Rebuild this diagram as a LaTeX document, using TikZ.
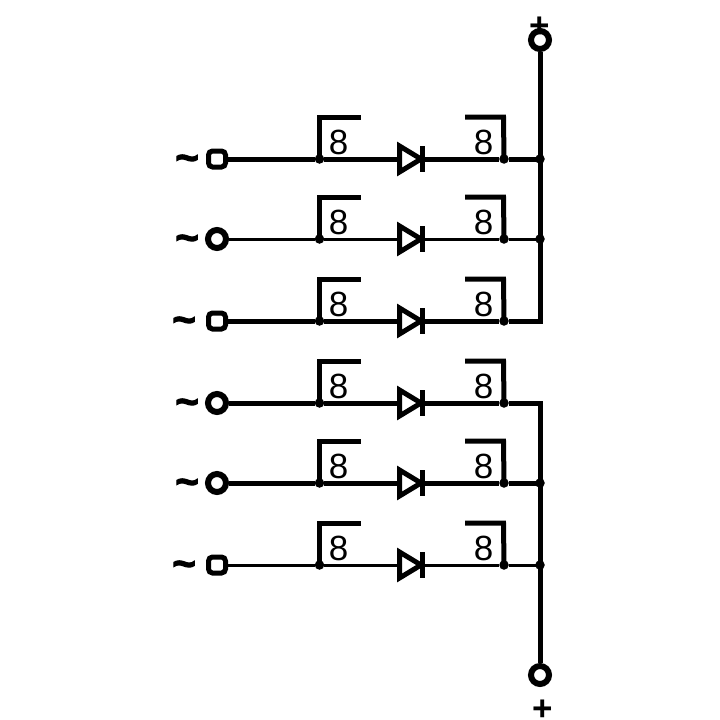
\documentclass[tikz,border=0pt]{standalone}
\usepackage{fontspec}
\setmainfont{Liberation Sans}
\newfontfamily\tildefont[FakeBold=3,BoldFont={Liberation Sans Bold}]{Liberation Sans Bold}
\begin{document}
\begin{tikzpicture}[x=1pt,y=-1pt,
  wire/.style={line width=#1,draw=black},
  term/.style={circle,draw=black,line width=6pt,fill=white,minimum size=18pt,inner sep=0pt},
  sqterm/.style={rectangle,rounded corners=4pt,draw=black,line width=5pt,fill=white,minimum width=17pt,minimum height=16pt,inner sep=0pt},
  junct/.style={circle,fill=black,minimum size=9.5pt,inner sep=0pt},
  eightlab/.style={font=\fontsize{35}{35}\selectfont,inner sep=0pt},
  tildelab/.style={font=\fontsize{40}{40}\tildefont,inner sep=0pt},
  pluslab/.style={font=\fontsize{35}{35}\selectfont\bfseries,inner sep=0pt}]
\useasboundingbox (0,0) rectangle (720,720);
% bus
\node[term] (ptop) at (540,40) {};
\node[term] (pbot) at (540,675) {};
\node[pluslab] (plustop) at (540,27) {+};
\node[pluslab] (plusbot) at (543,710) {+};
\foreach \n/\y/\w/\tx/\st in {1/159/5pt/187/sqterm,2/239/3pt/187/term,3/321/5pt/184/sqterm,4/403/5pt/187/term,5/483/5pt/187/term,6/565/3pt/184/sqterm}{
  \node[\st] (t\n) at (217,\y) {};
  \node[tildelab] (s\n) at (\tx,\y+4) {\char"7E};
  \node[junct] (l\n) at (319.5,\y) {};
  \node[junct] (r\n) at (504,\y) {};
  \coordinate (b\n) at (540,\y);
  \coordinate (a\n) at (397,\y);
  \coordinate (k\n) at (421,\y);
  \coordinate (lc\n) at (319.5,\y-42);
  \coordinate (le\n) at (361,\y-42);
  \coordinate (rc\n) at (503.5,\y-42);
  \coordinate (re\n) at (465,\y-42);
  \draw[wire=\w] (t\n) -- (l\n) -- (a\n);
  \draw[wire=\w] (k\n) -- (r\n) -- (b\n);
  \draw[wire=5pt] (l\n.center) -- (lc\n) -- (le\n);
  \draw[wire=5pt] (r\n.center) -- (rc\n) -- (re\n);
  \node[eightlab] (e\n) at (338.5,\y-16.5) {8};
  \node[eightlab] (f\n) at (483.5,\y-16.5) {8};
  \draw[wire=5pt,line join=miter] (399.5,\y-13) -- (421,\y) -- (399.5,\y+13) -- cycle;
  \draw[wire=5pt] (422,\y-13) -- (422,\y+13);
}
\draw[wire=5pt] (ptop) -- (b1) -- (b2) -- (b3) -- (r3);
\draw[wire=5pt] (pbot) -- (b6) -- (b5) -- (b4) -- (r4);
\node[junct] (j1) at (b1) {};
\node[junct] (j2) at (b2) {};
\node[junct] (j5) at (b5) {};
\node[junct] (j6) at (b6) {};
\end{tikzpicture}
\end{document}
